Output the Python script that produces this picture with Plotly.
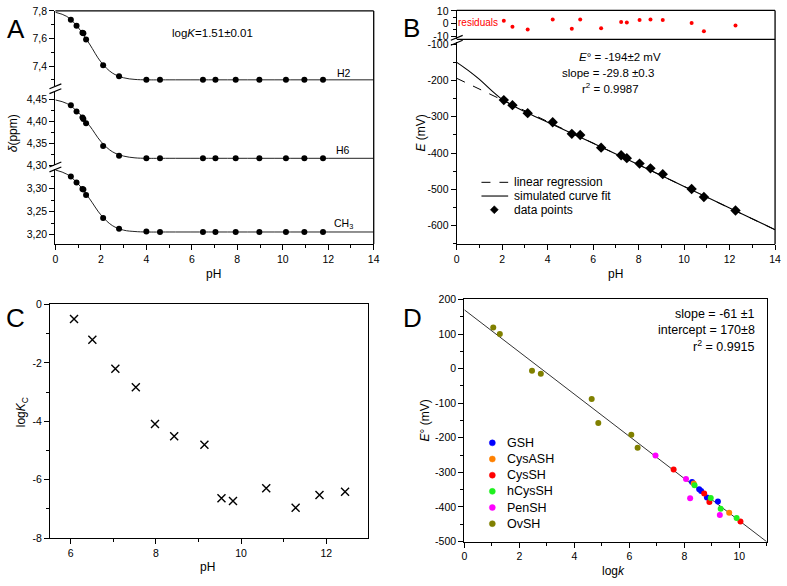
import plotly.graph_objects as go

W, H = 787, 586

# ---- panel A: chemical shifts vs pH ----
a_ph = [0.68, 0.93, 1.19, 1.23, 1.35, 2.1, 2.8, 4.0, 4.6, 6.49, 7.04, 7.93, 8.97, 10.14, 10.95, 11.77]
a_h2 = [7.736, 7.693, 7.642, 7.638, 7.593, 7.405, 7.326, 7.30, 7.30, 7.30, 7.30, 7.30, 7.30, 7.30, 7.30, 7.30]
a_h6 = [4.436, 4.422, 4.408, 4.405, 4.395, 4.344, 4.322, 4.316, 4.316, 4.316, 4.316, 4.316, 4.316, 4.316, 4.316, 4.316]
a_ch3 = [3.326, 3.313, 3.299, 3.298, 3.286, 3.236, 3.213, 3.207, 3.206, 3.206, 3.206, 3.206, 3.206, 3.206, 3.206, 3.206]
fit_ph = [0, 0.5, 1.0, 1.5, 2.0, 2.5, 3.0, 3.5, 4.0, 5.0, 8.0, 14.0]
fit_h2 = [7.79, 7.76, 7.68, 7.56, 7.43, 7.35, 7.315, 7.303, 7.30, 7.30, 7.30, 7.30]
fit_h6 = [4.448, 4.440, 4.420, 4.390, 4.354, 4.331, 4.321, 4.317, 4.316, 4.316, 4.316, 4.316]
fit_ch3 = [3.340, 3.331, 3.310, 3.278, 3.243, 3.220, 3.210, 3.207, 3.206, 3.206, 3.206, 3.206]

# ---- panel B: potential vs pH ----
b_ph = [2.07, 2.45, 3.12, 4.22, 5.06, 5.43, 6.35, 7.23, 7.48, 8.04, 8.52, 9.06, 10.33, 10.87, 12.26]
b_e = [-254, -268, -290, -315, -347, -350, -385, -406, -414, -429, -442, -458, -499, -521, -558]
b_resid = [2.3, -2.5, -4.8, 3.1, -4.1, 3.1, -3.8, 1.3, 0.8, 2.8, 3.1, 2.8, 0.5, -6.2, -1.5]
lin_ph = [0, 14]
lin_e = [-194, -611]
sim_ph = [0, 0.5, 1.0, 1.5, 2.0, 2.5, 3.0, 4.0, 6.0, 8.0, 10.0, 12.0, 14.0]
sim_e = [-150, -172, -197, -226, -252, -270, -286, -315, -373, -432, -492, -551, -611]
b_yticks = [-600, -500, -400, -300, -200, -100]
b_rticks = [-10, 0, 10]

# ---- panel C: logKc vs pH ----
c_ph = [6.08, 6.51, 7.05, 7.53, 7.98, 8.43, 9.14, 9.54, 9.81, 10.59, 11.28, 11.84, 12.44]
c_logk = [-0.50, -1.21, -2.20, -2.83, -4.09, -4.51, -4.80, -6.63, -6.73, -6.29, -6.96, -6.52, -6.41]
c_yticks = [-8, -6, -4, -2, 0]

# ---- panel D: E° vs logk ----
d_names = ["GSH", "CysASH", "CysSH", "hCysSH", "PenSH", "OvSH"]
d_colors = ["rgb(0,0,255)", "rgb(255,128,0)", "rgb(255,0,0)", "rgb(30,240,30)", "rgb(255,0,255)", "rgb(128,128,0)"]
d_x = [
    [8.28, 8.54, 8.61, 8.82, 9.22],
    [8.34, 9.63],
    [7.61, 8.72, 8.91, 10.04],
    [8.37, 8.96, 9.32, 9.90],
    [6.95, 8.06, 8.21, 9.29],
    [1.05, 1.29, 2.46, 2.78, 4.63, 4.87, 6.07, 6.30],
]
d_y = [
    [-328, -349, -354, -373, -384],
    [-332, -417],
    [-292, -361, -386, -442],
    [-337, -374, -405, -432],
    [-251, -319, -375, -423],
    [119, 100, -6, -15, -88, -157, -191, -229],
]
d_fit_x = [0, 11]
d_fit_y = [170, -501]
d_yticks = [-500, -400, -300, -200, -100, 0, 100, 200]

b_legend = ["linear regression", "simulated curve fit", "data points"]


def px(x):
    return x / W


def py(y):
    return 1 - y / H


fig = go.Figure()
blk = "black"

# A
for yy, ax in [(fit_h2, "y3"), (fit_h6, "y2"), (fit_ch3, "y")]:
    fig.add_trace(go.Scatter(x=fit_ph, y=yy, mode="lines", line=dict(color="#222", width=1, shape="spline"),
                             xaxis="x", yaxis=ax, showlegend=False))
for yy, ax in [(a_h2, "y3"), (a_h6, "y2"), (a_ch3, "y")]:
    fig.add_trace(go.Scatter(x=a_ph, y=yy, mode="markers", marker=dict(color=blk, size=6),
                             xaxis="x", yaxis=ax, showlegend=False))

# B
fig.add_trace(go.Scatter(x=lin_ph, y=lin_e, mode="lines", name=b_legend[0], showlegend=False,
                         line=dict(color=blk, width=1, dash="dash"), xaxis="x2", yaxis="y4"))
fig.add_trace(go.Scatter(x=sim_ph, y=sim_e, mode="lines", name=b_legend[1], showlegend=False,
                         line=dict(color=blk, width=1.1, shape="spline"), xaxis="x2", yaxis="y4"))
fig.add_trace(go.Scatter(x=b_ph, y=b_e, mode="markers", name=b_legend[2], showlegend=False,
                         marker=dict(color=blk, size=8, symbol="diamond"), xaxis="x2", yaxis="y4"))
fig.add_trace(go.Scatter(x=b_ph, y=b_resid, mode="markers", name="residuals", marker=dict(color="red", size=4),
                         xaxis="x2", yaxis="y5", showlegend=False))

# C
fig.add_trace(go.Scatter(x=c_ph, y=c_logk, mode="markers",
                         marker=dict(symbol="x-thin", size=8, line=dict(width=1.4, color=blk)),
                         xaxis="x3", yaxis="y6", showlegend=False))

# D
fig.add_trace(go.Scatter(x=d_fit_x, y=d_fit_y, mode="lines", line=dict(color="#333", width=1),
                         xaxis="x4", yaxis="y7", showlegend=False))
for nm, col, xs, ys in zip(d_names, d_colors, d_x, d_y):
    fig.add_trace(go.Scatter(x=xs, y=ys, mode="markers", name=nm, marker=dict(color=col, size=6),
                             xaxis="x4", yaxis="y7", showlegend=False))

tickfont = dict(family="Liberation Sans, Arial", size=10.5, color=blk)


def axis(domain, rng, dtick, mdtick, anchor, tick0=0, vals=None, **kw):
    d = dict(domain=domain, range=rng, anchor=anchor, showline=True, linecolor=blk, linewidth=1.3,
             ticks="outside", ticklen=5, tickwidth=1.2, tickcolor=blk, showgrid=False, zeroline=False,
             tickfont=tickfont, ticklabeloverflow="allow",
             minor=dict(tickmode="linear", tick0=tick0, dtick=mdtick, ticks="outside", ticklen=3,
                        tickwidth=1, tickcolor=blk))
    if vals is None:
        d.update(tickmode="linear", tick0=tick0, dtick=dtick)
    else:
        # plain hyphen minus signs as in the original figure
        d.update(tickmode="array", tickvals=vals, ticktext=[str(v) for v in vals])
    d.update(kw)
    return d


fig.update_layout(
    width=W, height=H, margin=dict(l=0, r=0, t=0, b=0),
    plot_bgcolor="white", paper_bgcolor="white",
    separators=",.",
    showlegend=False,
    font=dict(family="Liberation Sans, Arial", size=12, color=blk),
    # A
    xaxis=axis([px(53), px(375)], [0, 14], 2, 1, "y"),
    yaxis=axis([py(243), py(166)], [3.18, 3.343], 0.05, 0.025, "x", tick0=3.2, tickformat=".2f"),
    yaxis2=axis([py(162.7), py(87)], [4.30, 4.4677], 0.05, 0.025, "x", tick0=4.3, tickformat=".2f"),
    yaxis3=axis([py(82), py(5)], [7.253, 7.8], 0.2, 0.1, "x", tick0=7.4, tickformat=".1f"),
    # B
    xaxis2=axis([px(459), px(781)], [0, 14], 2, 1, "y4"),
    yaxis4=axis([py(243.3), py(36.5)], [-651.3, -93.3], 100, 50, "x2", vals=b_yticks),
    yaxis5=axis([py(34), py(4.5)], [-12.5, 10.4], 10, 5, "x2", vals=b_rticks),
    # C
    xaxis3=axis([px(47.7), px(369.3)], [5.52, 12.98], 2, 1, "y6", mirror=True),
    yaxis6=axis([py(543.3), py(304.7)], [-8, 0], 2, 1, "x3", vals=c_yticks, mirror=True),
    # D
    xaxis4=axis([px(466.7), px(772.7)], [0, 11], 2, 1, "y7", mirror=True),
    yaxis7=axis([py(546.7), py(299.6)], [-500, 200], 100, 50, "x4", vals=d_yticks, mirror=True),
)

shapes = []


def hline(x0, x1, y, width=1.3, dash="solid"):
    shapes.append(dict(type="line", xref="paper", yref="paper", x0=px(x0), x1=px(x1), y0=py(y), y1=py(y),
                       line=dict(color=blk, width=width, dash=dash)))


def vline(x, y0, y1):
    shapes.append(dict(type="line", xref="paper", yref="paper", x0=px(x), x1=px(x), y0=py(y0), y1=py(y1),
                       line=dict(color=blk, width=1.3)))


def brk(cx, cy):
    for off in (-2.5, 2.5):
        shapes.append(dict(type="line", xref="paper", yref="paper", x0=px(cx - 6), x1=px(cx + 6),
                           y0=py(cy + off + 2.5), y1=py(cy + off - 2.5), line=dict(color=blk, width=1.2)))


def dot(cx, cy, r, color, diamond=False):
    d = dict(xref="paper", yref="paper", xsizemode="pixel", ysizemode="pixel",
             xanchor=px(cx), yanchor=py(cy), fillcolor=color, line=dict(color=color, width=0.5))
    if diamond:
        d.update(type="path", path=f"M 0,{r} L {r},0 L 0,{-r} L {-r},0 Z")
    else:
        d.update(type="circle", x0=-r, x1=r, y0=-r, y1=r)
    shapes.append(d)


# frames for A and B
hline(53, 375, 5)
vline(375, 5, 243)
hline(459, 781, 4.5)
vline(781, 4.5, 243.3)
hline(459, 781, 34)
brk(53, 84.5)
brk(53, 164.3)
brk(459, 35)

ann = []


def txt(x, y, s, size=12, **kw):
    d = dict(x=px(x), y=py(y), xref="paper", yref="paper", text=s, showarrow=False,
             font=dict(size=size, color=kw.pop("color", blk)), xanchor=kw.pop("xanchor", "center"),
             yanchor="middle")
    d.update(kw)
    ann.append(d)


# legend of B
hline(484, 511, 180, width=1, dash="dash")
hline(484, 511, 194, width=1.1)
dot(497, 208, 4, blk, diamond=True)
for i, s in enumerate(b_legend):
    txt(515, 180 + 14 * i, s, 12, xanchor="left")

# legend of D
for i, (nm, col) in enumerate(zip(d_names, d_colors)):
    dot(495, 446 + 16.5 * i, 3, col)
    txt(508, 446 + 16.5 * i, nm, 12.5, xanchor="left")

fig.update_layout(shapes=shapes)

# panel letters
txt(13, 23, "A", 26)
txt(413, 22, "B", 26)
txt(13, 319, "C", 26)
txt(414, 319, "D", 26)
# axis titles
txt(213, 274, "pH", 12)
txt(620, 274, "pH", 12)
txt(207, 573, "pH", 12)
txt(618, 577, "log<i>k</i>", 12)
txt(10, 130, "<i>δ</i>(ppm)", 12, textangle=-90)
txt(423, 130, "<i>E</i> (mV)", 12, textangle=-90)
txt(19, 415, "log<i>K</i><sub>C</sub>", 12, textangle=-90)
txt(427, 423, "<i>E</i>° (mV)", 12, textangle=-90)
# panel A texts
txt(212, 28, "log<i>K</i>=1.51±0.01", 11.5)
txt(345, 68, "H2", 10.5)
txt(344, 147, "H6", 10.5)
txt(344, 223, "CH<sub>3</sub>", 10.5)
# panel B texts
txt(480, 17, "residuals", 10, color="red")
txt(624, 52, "<i>E</i>° = -194±2 mV", 11.5)
txt(612, 68, "slope = -29.8 ±0.3", 11.5)
txt(615, 84, "r<sup>2</sup> = 0.9987", 11.5)
# panel D texts
txt(763, 314, "slope = -61 ±1", 12.5, xanchor="right")
txt(763, 331, "intercept = 170±8", 12.5, xanchor="right")
txt(763, 347, "r<sup>2</sup> = 0.9915", 12.5, xanchor="right")
fig.update_layout(annotations=ann)

fig.write_html("out.html", config={"displayModeBar": False},
               post_script="document.body.style.margin='0';")
